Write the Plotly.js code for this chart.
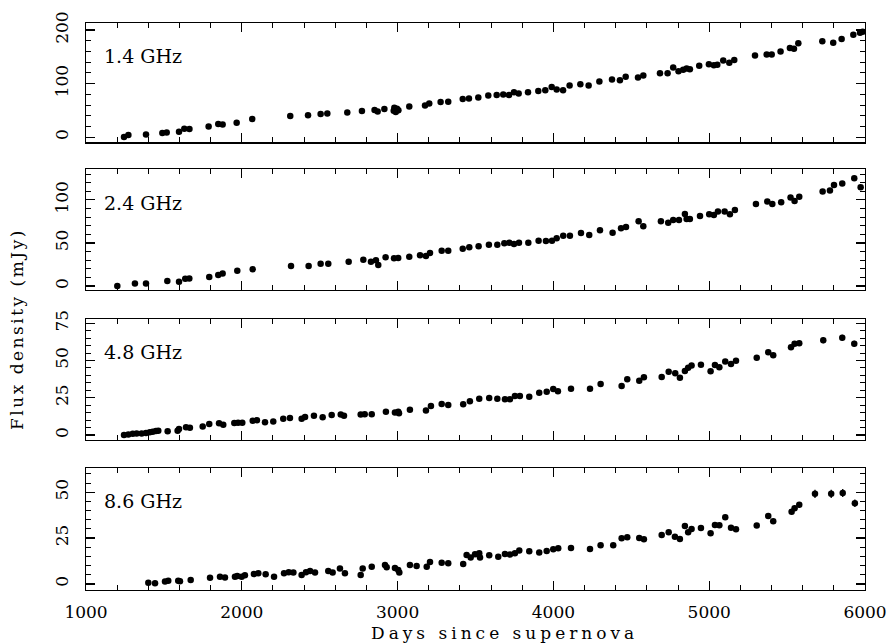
<!DOCTYPE html>
<html>
<head>
<meta charset="utf-8">
<script src="https://cdn.plot.ly/plotly-3.0.1.min.js"></script>
<style>
html, body { margin: 0; padding: 0; background: #fff; }
#chart { width: 891px; height: 644px; }
</style>
</head>
<body>
<div id="chart"></div>
<script>
// ---- Data ----
const panelLabels = ["1.4 GHz", "2.4 GHz", "4.8 GHz", "8.6 GHz"];
const xTickLabels = ["1000", "2000", "3000", "4000", "5000", "6000"];

const days14 = [1244,1272,1385,1490,1518,1597,1631,1664,1787,1849,1877,1967,2067,2311,2425,2506,2549,2677,2771,2852,2872,2915,2975,2979,2988,2996,3005,3075,3176,3203,3276,3325,3418,3458,3518,3582,3636,3678,3715,3747,3777,3837,3903,3948,3989,4021,4062,4104,4173,4226,4295,4376,4427,4464,4543,4577,4684,4733,4769,4803,4833,4855,4876,4936,4998,5030,5052,5090,5129,5161,5294,5369,5401,5458,5518,5544,5572,5726,5796,5850,5925,5968,5985];
const flux14 = [0,3.8,5,7.5,8.8,10,15.7,15,20,24.4,23.8,27,33.8,39.4,40.7,43,44,46,49,50.7,48,52.5,49.5,55,47,53,50,57,59,63,65.7,66,71.3,72,73.9,77.6,78.8,79.5,78.8,83.9,81.4,83.9,86.3,87.6,93.8,88.9,87.6,96.4,98.9,96.4,103.9,107.7,106.4,112.6,111.4,115.2,119.5,119.5,130.2,123.3,125.7,128.3,127,133.2,136.4,134.5,135.1,143.3,138.8,143.9,152.7,154.6,154.6,160.2,166.4,165.1,175.2,179,176.4,183.3,191.4,195.1,197];

const days24 = [1201,1314,1385,1522,1597,1637,1663,1791,1849,1877,1971,2070,2316,2429,2506,2555,2686,2780,2829,2861,2876,2923,2977,3004,3075,3144,3182,3208,3283,3325,3418,3460,3520,3586,3640,3685,3717,3747,3779,3839,3905,3952,3991,4021,4063,4106,4177,4230,4299,4380,4434,4466,4547,4577,4690,4737,4769,4806,4844,4855,4876,4941,5000,5030,5056,5099,5133,5165,5300,5373,5405,5462,5522,5548,5578,5728,5775,5801,5854,5931,5972];
const flux24 = [0,3.1,3.1,5.8,5.0,8.5,8.9,10.5,12.8,14.7,17.8,19.4,23.3,23.3,26,26,28.3,30.6,28.3,29.9,24.4,33.4,32.2,32.6,34.1,35.7,34.9,38.4,41,41,43.4,45,46.2,48,48,49.6,50.3,48.8,50.3,50.3,52.7,52.3,52.7,55.4,58.5,58.5,61.6,59.3,64.8,62,67.1,68.6,75.2,69.4,75.2,73.6,76.7,76.7,83.7,77.9,77.9,81.4,83.4,82.6,86.4,86.4,83.4,88.4,95.3,98,95.3,97.3,102.7,98.8,103.5,109.7,110.8,117.4,119,125.2,114.8];

const days48 = [1244,1272,1300,1325,1357,1385,1409,1428,1449,1464,1524,1588,1597,1642,1667,1749,1791,1854,1881,1952,1976,2003,2070,2097,2149,2202,2266,2309,2384,2406,2463,2519,2577,2635,2656,2763,2789,2834,2925,2983,3004,3009,3079,3182,3214,3283,3325,3421,3464,3524,3588,3640,3689,3721,3753,3785,3845,3909,3957,3999,4029,4113,4235,4303,4438,4474,4551,4581,4695,4740,4782,4812,4844,4865,4887,4947,5009,5037,5065,5103,5140,5172,5305,5379,5411,5525,5548,5578,5732,5854,5931];
const flux48 = [0,0.4,0.9,1.1,1.1,1.3,1.8,2.2,2.7,2.9,2.5,2.9,4.0,5.2,4.9,5.8,7.4,7.9,6.9,8.1,8.3,8.3,9.6,9.9,8.5,9.0,11.0,11.4,11.0,12.1,13.0,11.9,13.4,13.7,13.0,13.7,13.9,13.9,15.7,15.2,15.7,14.6,17.0,16.4,19.5,20.8,20.2,20.6,22.6,24.4,24.9,24.4,24.0,24.0,26.2,26.2,25.7,28.4,29.1,30.9,29.4,31.1,31.1,34.3,32.9,37.4,36.5,38.8,39.0,42.5,41.5,38.5,43.0,45.2,46.6,47.2,42.8,47.0,45.5,49.3,47.7,49.9,51.9,55.6,53.6,58.9,61.2,61.6,63.6,65.2,61.2];
const err48 = [0,0,0,0,0,0,0,0,0,0,0,0,0,0,0,0,0,0,0,0,0,0,0,0,0,0,0,0,0,0,0,0,0,0,0,0,0,0,0,0,0,0,0,0,0,0,0,0,0,0,0,0,0,0,0,0,0,0,0,0,0,0,0,0,0,0,0,0,0,0,0,0,0,0,0,0,0,0,0,0,0,0,1.2,1.2,1.2,1.3,1.3,1.3,2.0,2.0,2.0];

const days86 = [1400,1443,1507,1528,1592,1603,1672,1796,1860,1892,1956,1971,1999,2020,2078,2106,2153,2207,2271,2301,2331,2384,2412,2438,2470,2555,2583,2630,2662,2763,2776,2834,2919,2930,2983,3004,3011,3079,3122,3187,3208,3283,3325,3421,3443,3469,3497,3524,3529,3588,3646,3689,3721,3753,3781,3845,3909,3957,3999,4031,4113,4235,4303,4384,4438,4474,4551,4581,4695,4740,4780,4812,4844,4865,4887,4947,5009,5037,5065,5103,5140,5172,5305,5379,5411,5529,5548,5578,5679,5783,5857,5935];
const flux86 = [0.7,0.4,1.3,1.8,1.8,1.5,2.2,3.4,4.0,3.6,4.0,4.4,4.0,4.7,5.5,5.8,5.3,4.0,5.8,6.4,6.2,4.9,6.4,7.1,6.2,7.1,6.2,8.4,5.8,4.9,8.5,9.4,10.4,9.1,8.7,7.6,6.2,10.4,9.8,9.4,12.0,11.6,11.3,10.9,15.8,14.5,16.2,16.7,14.5,15.6,14.9,16.4,16.0,16.7,18.2,17.8,17.1,18.0,18.9,19.5,19.6,19.1,21.1,21.1,24.9,25.5,25.1,24.4,26.7,28.2,25.8,24.5,31.6,28.2,30.0,30.5,27.6,32.2,32.0,36.4,30.7,29.8,31.8,37.1,34.2,39.4,41.3,43.1,49.1,49.1,49.6,44.0];
const err86 = [0,0,0,0,0,0,0,0,0,0,0,0,0,0,0,0,0,0,0,0,0,0,0,0,0,0,0,0,0,0,0,0,0,0,0,0,0,0,0,0,0,0,0,0,0,0,0,0,0,0,0,0,0,0,0,0,0,0,0,0,0,0,0,0,0,0,0,0,0,0,0,0,1.0,0,0,0,0,0,0,1.0,0,0,0,1.0,0,1.5,1.5,1.5,2.2,2.2,2.2,2.0];

// ---- Figure ----
const FONT = "DejaVu Serif";
const domains = [[0.788, 0.998], [0.528, 0.741], [0.264, 0.477], [0, 0.215]];
const yRanges = [[-9.9, 213], [-4.65, 135.7], [-3.36, 77.8], [-3.27, 63.25]];
const yDtick = [100, 50, 25, 25];
const yMinor = [20, 10, 5, 5];

const series = [
  {x: days14, y: flux14, e: null},
  {x: days24, y: flux24, e: null},
  {x: days48, y: flux48, e: err48},
  {x: days86, y: flux86, e: err86}
];

const data = series.map((s, i) => {
  const t = {
    type: "scatter", mode: "markers",
    x: s.x, y: s.y,
    xaxis: i === 0 ? "x" : "x" + (i + 1),
    yaxis: i === 0 ? "y" : "y" + (i + 1),
    marker: {color: "#000", size: 6.5, line: {width: 0}},
    cliponaxis: false,
    hoverinfo: "x+y"
  };
  if (s.e) t.error_y = {type: "data", array: s.e, visible: true, color: "#000", thickness: 1.3, width: 0};
  return t;
});

const layout = {
  width: 891, height: 644,
  margin: {l: 86, r: 26, t: 22, b: 54},
  paper_bgcolor: "#fff", plot_bgcolor: "#fff",
  showlegend: false,
  font: {family: FONT, size: 17, color: "#000"},
  annotations: []
};

for (let i = 0; i < 4; i++) {
  const sfx = i === 0 ? "" : String(i + 1);
  layout["xaxis" + sfx] = {
    range: [1000, 6000], anchor: "y" + sfx,
    tickmode: "array", tickvals: xTickLabels.map(Number), ticktext: xTickLabels,
    showticklabels: i === 3,
    ticks: "inside", ticklen: 9, tickwidth: 1.2, tickcolor: "#000",
    minor: {dtick: 200, tick0: 1000, ticks: "inside", ticklen: 5, tickwidth: 1, tickcolor: "#000", showgrid: false},
    showline: true, linecolor: "#000", linewidth: 1.3, mirror: "ticks",
    showgrid: false, zeroline: false,
    tickfont: {family: FONT, size: 17, color: "#000"},
    ticklabelstandoff: 6
  };
  layout["yaxis" + sfx] = {
    domain: domains[i], range: yRanges[i], anchor: "x" + sfx,
    dtick: yDtick[i], tick0: 0,
    ticks: "inside", ticklen: 9, tickwidth: 1.2, tickcolor: "#000",
    minor: {dtick: yMinor[i], tick0: 0, ticks: "inside", ticklen: 5, tickwidth: 1, tickcolor: "#000", showgrid: false},
    showline: true, linecolor: "#000", linewidth: 1.3, mirror: "ticks",
    showgrid: false, zeroline: false,
    tickangle: -90,
    tickfont: {family: FONT, size: 17, color: "#000"},
    ticklabelstandoff: 10
  };
  layout.annotations.push({
    text: panelLabels[i], xref: "x" + sfx + " domain", yref: "y" + sfx + " domain",
    x: 0.02, y: [0.727, 0.717, 0.725, 0.725][i], xanchor: "left", yanchor: "middle",
    showarrow: false, font: {family: FONT, size: 19, color: "#000"}
  });
}

layout.annotations.push({
  text: "Days since supernova", xref: "paper", yref: "paper",
  x: 0.5366, y: -0.0757, xanchor: "center", yanchor: "middle",
  showarrow: false, font: {family: FONT, size: 17, color: "#000"}
});
layout.annotations.push({
  text: "Flux density (mJy)", xref: "paper", yref: "paper",
  x: -0.088, y: 0.4595, xanchor: "center", yanchor: "middle", textangle: -90,
  showarrow: false, font: {family: FONT, size: 17, color: "#000"}
});

Plotly.newPlot("chart", data, layout, {staticPlot: true, displayModeBar: false}).then(() => {
  document.querySelectorAll('.annotation[data-index="4"] text').forEach(t => { t.style.letterSpacing = "4px"; });
  document.querySelectorAll('.annotation[data-index="5"] text').forEach(t => { t.style.letterSpacing = "2.5px"; });
});
</script>
</body>
</html>
